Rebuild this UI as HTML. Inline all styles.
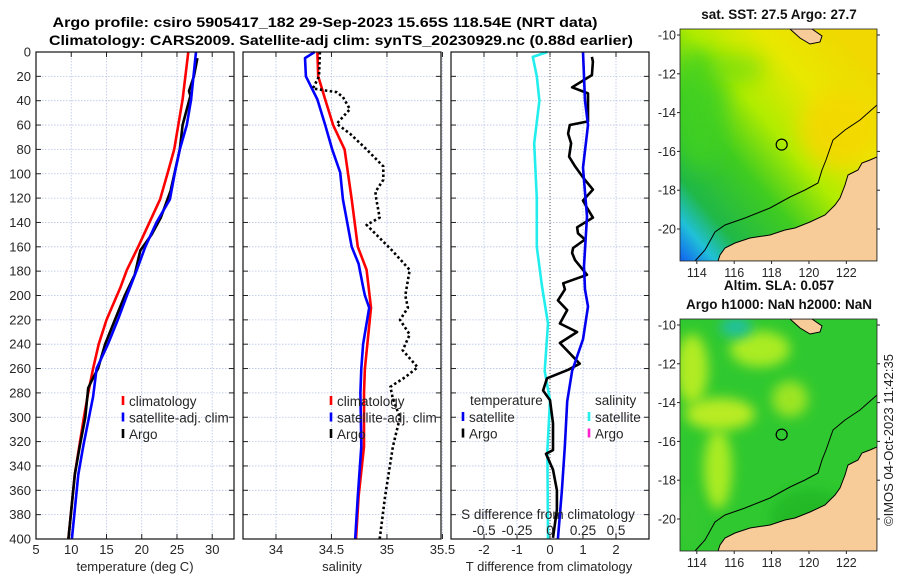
<!DOCTYPE html>
<html><head><meta charset="utf-8">
<style>
html,body{margin:0;padding:0;background:#fff;}
svg{display:block;font-family:"Liberation Sans","DejaVu Sans",sans-serif;}
</style></head>
<body>
<svg id="fig" width="900" height="580" viewBox="0 0 900 580" xmlns="http://www.w3.org/2000/svg">
<defs>
  <filter id="blur8" x="-50%" y="-50%" width="200%" height="200%"><feGaussianBlur stdDeviation="10"/></filter>
  <filter id="blur5" x="-50%" y="-50%" width="200%" height="200%"><feGaussianBlur stdDeviation="6"/></filter>
  <linearGradient id="sstgrad" x1="0" y1="1" x2="0.9" y2="0.1">
    <stop offset="0" stop-color="#1060f0"/>
    <stop offset="0.1" stop-color="#20c0d8"/>
    <stop offset="0.2" stop-color="#20b848"/>
    <stop offset="0.4" stop-color="#40cc20"/>
    <stop offset="0.58" stop-color="#b0ec00"/>
    <stop offset="0.78" stop-color="#e8e800"/>
    <stop offset="1" stop-color="#f0d800"/>
  </linearGradient>
  <clipPath id="clipTop"><rect x="680" y="29" width="197" height="232"/></clipPath>
  <clipPath id="clipBot"><rect x="680" y="319" width="197" height="232"/></clipPath>
</defs>
<text x="325" y="27" text-anchor="middle" font-size="14" font-weight="bold" textLength="545" lengthAdjust="spacingAndGlyphs">Argo profile: csiro 5905417_182 29-Sep-2023 15.65S 118.54E (NRT data)</text>
<text x="341" y="45" text-anchor="middle" font-size="14" font-weight="bold" textLength="584" lengthAdjust="spacingAndGlyphs">Climatology: CARS2009. Satellite-adj clim: synTS_20230929.nc (0.88d earlier)</text>
<g id="panels"></g>
<g id="maps"></g>
<text transform="translate(893,440) rotate(-90)" text-anchor="middle" font-size="13" fill="#222">©IMOS 04-Oct-2023 11:42:35</text>
</svg>
<script>
// ---------- data ----------
const depthTicks = [0,20,40,60,80,100,120,140,160,180,200,220,240,260,280,300,320,340,360,380,400];
const tempTicks = [5,10,15,20,25,30];
const salTicks = [34,34.5,35,35.5];
const salTickLabels = ["34","34.5","35","35.5"];
const dtTicks = [-2,-1,0,1,2];
const dsTicks = [-0.5,-0.25,0,0.25,0.5];
const dsTickLabels = ["-0.5","-0.25","0","0.25","0.5"];

const tClimDepth = [0,39,80,99,121,160,179,193,220,240,260,280,300,347,400];
const tClimVal   = [26.6,25.8,24.6,23.7,22.6,19.5,17.9,17.0,15.0,13.9,13.1,12.4,11.8,10.5,9.6];
const tSatDepth  = [0,39,60,80,99,121,140,160,179,200,220,240,260,283,324,347,400];
const tSatVal    = [27.7,27.0,26.4,25.4,24.7,24.0,22.1,20.5,19.3,17.9,16.6,15.2,13.6,13.1,11.7,11.0,10.1];
const tArgoDepth = [5,20,32,36,60,80,114,136,150,163,183,200,220,240,260,270,276,300,324,347,400];
const tArgoVal   = [27.9,27.4,26.7,26.9,25.8,25.4,24.1,22.7,21.4,19.8,19.0,17.6,16.2,14.8,13.8,12.9,12.4,12.0,11.2,10.5,9.6];

const sClimDepth = [0,20,39,60,80,121,160,179,210,260,280,324,365,400];
const sClimVal   = [34.373,34.381,34.444,34.515,34.618,34.682,34.737,34.817,34.856,34.801,34.793,34.793,34.745,34.721];
const sSatDepth  = [0,5,20,39,60,80,99,121,140,160,174,193,200,210,240,260,280,324,365,400];
const sSatVal    = [34.349,34.262,34.270,34.373,34.444,34.507,34.579,34.603,34.642,34.682,34.745,34.785,34.801,34.840,34.785,34.769,34.761,34.769,34.737,34.714];
const sArgoDepth = [0,20,30,33,37,47,59,67,80,94,105,115,121,136,142,163,179,200,210,220,232,245,259,267,275,285,300,324,365,400];
const sArgoVal   = [34.396,34.388,34.333,34.547,34.603,34.666,34.547,34.666,34.817,34.967,34.967,34.896,34.904,34.935,34.817,35.046,35.205,35.165,35.189,35.118,35.205,35.142,35.276,35.165,35.031,35.054,35.118,35.054,34.983,34.935];

const dtSatDepth = [0,40,60,95,135,176,195,209,236,262,287,323,360,400];
const dtSatVal   = [1.0,1.06,1.15,1.0,1.12,1.03,1.06,1.15,1.0,0.67,0.52,0.45,0.36,0.24];
const dtArgoDepth = [4,8,19,29,34,57,60,67,75,86,94,103,113,122,128,136,144,149,154,161,165,171,183,190,195,204,212,223,230,239,256,261,268,278,286,305,327,330,343,360,376,399];
const dtArgoVal   = [1.27,1.3,1.27,0.67,1.15,1.15,0.6,0.55,0.64,0.58,0.76,1.0,1.3,1.0,1.12,1.3,0.82,0.85,1.06,0.7,0.67,0.76,1.12,0.4,0.45,0.24,0.52,0.3,0.82,0.3,0.9,0.55,-0.09,-0.21,0.0,0.09,0.09,-0.12,0.09,0.21,0.21,0.09];
const dsSatDepth = [0,4,20,40,75,120,160,193,223,262,286,327,400];
const dsSatVal   = [-0.02,-0.13,-0.10,-0.08,-0.12,-0.10,-0.10,-0.06,-0.015,-0.04,0,-0.02,-0.015];

// ---------- helpers ----------
const NS = "http://www.w3.org/2000/svg";
function mk(tag, attrs, parent){
  const e = document.createElementNS(NS, tag);
  for (const k in attrs) e.setAttribute(k, attrs[k]);
  if (parent) parent.appendChild(e);
  return e;
}
const TOP = 52, BOT = 539;
const yD = d => TOP + d/400*(BOT-TOP);
const panelsG = document.getElementById('panels');

function makeAxis(x0, x1, vmin, vmax){ return v => x0 + (v - vmin)/(vmax - vmin)*(x1 - x0); }
const P1 = {x0:36, x1:234}, P2 = {x0:243, x1:441}, P3 = {x0:451, x1:649};
const xT  = makeAxis(P1.x0, P1.x1, 5, 33.09);
const xS  = makeAxis(P2.x0, P2.x1, 33.703, 35.487);
const xDT = makeAxis(P3.x0, P3.x1, -3, 3);
const xDS = makeAxis(P3.x0, P3.x1, -0.75, 0.75);

function grid(g, P, xs, xfun){
  xs.forEach(v=>{
    const x = xfun(v);
    const l = mk('line',{x1:x,x2:x,y1:TOP,y2:BOT,stroke:'#b8c4e8','stroke-width':0.8,'stroke-dasharray':'1.5,1.5'},g);
    
    
    const t1 = mk('line',{x1:x,x2:x,y1:BOT,y2:BOT-5,stroke:'#222','stroke-width':1},g);
    
    
    const t2 = mk('line',{x1:x,x2:x,y1:TOP,y2:TOP+5,stroke:'#222','stroke-width':1},g);
    
    
  });
  depthTicks.forEach(d=>{
    const y = yD(d);
    const l = mk('line',{x1:P.x0,x2:P.x1,y1:y,y2:y,stroke:'#b8c4e8','stroke-width':0.8,'stroke-dasharray':'1.5,1.5'},g);
    
    
    const t1 = mk('line',{x1:P.x0,x2:P.x0+5,y1:y,y2:y,stroke:'#222','stroke-width':1},g);
    
    
    const t2 = mk('line',{x1:P.x1,x2:P.x1-5,y1:y,y2:y,stroke:'#222','stroke-width':1},g);
    
    
  });
}
function frame(g, P, name){
  const r = mk('rect',{x:P.x0,y:TOP,width:P.x1-P.x0,height:BOT-TOP,fill:'none',stroke:'#111','stroke-width':1.2},g);
  
  
}
function line(g, xs, ds, xfun, color, width, dash, name){
  const pts = xs.map((v,i)=> xfun(v).toFixed(1)+','+yD(ds[i]).toFixed(1)).join(' ');
  const attrs = {points:pts, fill:'none', stroke:color, 'stroke-width':width, 'stroke-linejoin':'round'};
  if (dash) { attrs['stroke-dasharray']=dash; }
  const p = mk('polyline', attrs, g);
  
  
}
function text(g, x, y, s, opts){
  const t = mk('text', Object.assign({x:x, y:y, 'font-size':13, fill:'#262626'}, opts||{}), g);
  t.textContent = s;
  return t;
}

// ---------- panel 1: temperature ----------
const g1 = mk('g',{},panelsG);


grid(g1, P1, tempTicks, xT);
line(g1, tClimVal, tClimDepth, xT, '#ff0000', 2.6, null, 'temp-climatology-line');
line(g1, tArgoVal, tArgoDepth, xT, '#000000', 2.6, null, 'temp-argo-line');
line(g1, tSatVal, tSatDepth, xT, '#0000ff', 2.6, null, 'temp-satellite-line');
frame(g1, P1, 'temperature-axes-frame');
depthTicks.forEach(d=>{
  const t = text(g1, 31, yD(d)+4.5, String(d), {'text-anchor':'end'});
  
  
});
tempTicks.forEach(v=>{
  const t = text(g1, xT(v), 554, String(v), {'text-anchor':'middle'});
  
  
});
{ const t = text(g1, 135, 571, 'temperature (deg C)', {'text-anchor':'middle'});
    }

function legend(g, x, y, items, name){
  const lg = mk('g',{},g);
  
  
  items.forEach((it,i)=>{
    const yy = y + i*16.5;
    if (it.color){
      const m = mk('line',{x1:x,x2:x,y1:yy-10,y2:yy-1,stroke:it.color,'stroke-width':2.6},lg);
      
      
    }
    const t = text(lg, x+6, yy, it.label, {'font-size':13.5});
    
    
  });
}
legend(g1, 123, 406, [{color:'#ff0000',label:'climatology'},{color:'#0000ff',label:'satellite-adj. clim'},{color:'#000',label:'Argo'}], 'temperature-legend');

// ---------- panel 2: salinity ----------
const g2 = mk('g',{},panelsG);


grid(g2, P2, salTicks, xS);
line(g2, sClimVal, sClimDepth, xS, '#ff0000', 2.6, null, 'sal-climatology-line');
line(g2, sSatVal, sSatDepth, xS, '#0000ff', 2.6, null, 'sal-satellite-line');
line(g2, sArgoVal, sArgoDepth, xS, '#000000', 2.6, '2.5,2.5', 'sal-argo-line');
frame(g2, P2, 'salinity-axes-frame');
salTicks.forEach((v,i)=>{
  const t = text(g2, xS(v), 554, salTickLabels[i], {'text-anchor':'middle'});
  
  
});
{ const t = text(g2, 342, 571, 'salinity', {'text-anchor':'middle'});
    }
legend(g2, 331, 406, [{color:'#ff0000',label:'climatology'},{color:'#0000ff',label:'satellite-adj. clim'},{color:'#000',label:'Argo'}], 'salinity-legend');

// ---------- panel 3: differences ----------
const g3 = mk('g',{},panelsG);


grid(g3, P3, dtTicks, xDT);
{ const z = mk('line',{x1:xDT(0),x2:xDT(0),y1:TOP,y2:BOT,stroke:'#555','stroke-width':1,'stroke-dasharray':'1,2'},g3);
    }
line(g3, dsSatVal, dsSatDepth, xDS, '#22eeee', 2.6, null, 'sal-diff-satellite-line');
line(g3, dtArgoVal, dtArgoDepth, xDT, '#000000', 2.6, null, 'temp-diff-argo-line');
line(g3, dtSatVal, dtSatDepth, xDT, '#0000ee', 2.6, null, 'temp-diff-satellite-line');
frame(g3, P3, 'difference-axes-frame');
dtTicks.forEach(v=>{
  const t = text(g3, xDT(v), 554, String(v), {'text-anchor':'middle'});
  
  
});
{ const t = text(g3, 549, 571, 'T difference from climatology', {'text-anchor':'middle'});
    }
{ const t = text(g3, 548, 519, 'S difference from climatology', {'text-anchor':'middle','font-size':13.5});
    }
dsTicks.forEach((v,i)=>{
  const t = text(g3, xDS(v), 535, dsTickLabels[i], {'text-anchor':'middle','font-size':13.5});
  
  
});
{ const t = text(g3, 470, 405, 'temperature', {'font-size':13.5});
   
  const t2 = text(g3, 595, 405, 'salinity', {'font-size':13.5});
    }
legend(g3, 463, 422, [{color:'#0000ee',label:'satellite'},{color:'#000',label:'Argo'}], 'temp-diff-legend');
legend(g3, 589, 422, [{color:'#22eeee',label:'satellite'},{color:'#ff22cc',label:'Argo'}], 'sal-diff-legend');

// ---------- maps ----------
const mapsG = document.getElementById('maps');
const lonTicks = [114,116,118,120,122];
const latTicks = [-10,-12,-14,-16,-18,-20];
const MX0 = 680, MX1 = 877, MW = 197, MH = 232;
const lonX = lon => MX0 + (lon - 113.1)/(123.64-113.1)*MW;
function latY(top){ return lat => top + 6 + (-10 - lat)*19.4; }

const landMain = [[877,157],[870,160],[862,163],[858,170],[848,175],[845,185],[840,198],[835,205],[825,215],[810,222],[795,228],[785,230],[770,235],[750,238],[735,243],[725,248],[720,255],[718,261],[877,261]];
const landTop = [[790,29],[812,29],[822,36],[820,42],[810,44],[800,38]];
const isobath = [[695,261],[705,250],[715,232],[725,225],[745,218],[770,208],[790,197],[805,190],[818,183],[822,170],[826,160],[833,140],[845,130],[860,120],[877,105]];
function ptsStr(arr, dy){ return arr.map(p=>p[0]+','+(p[1]+dy)).join(' '); }

function drawMap(top, kind, title1, title2){
  const dy = top - 29;
  const g = mk('g',{},mapsG);
  
  
  const inner = mk('g',{'clip-path': kind==='sst' ? 'url(#clipTop)' : 'url(#clipBot)'}, g);
  if (kind === 'sst'){
    const bg = mk('rect',{x:MX0,y:top,width:MW,height:MH,fill:'url(#sstgrad)'},inner);
     
    const b1 = mk('ellipse',{cx:700,cy:top+80,rx:26,ry:60,fill:'#40d020',opacity:0.85,filter:'url(#blur8)'},inner);
     
    const b3 = mk('ellipse',{cx:735,cy:top+40,rx:30,ry:14,fill:'#70dc10',opacity:0.7,filter:'url(#blur8)'},inner);
     
    const b2 = mk('ellipse',{cx:840,cy:top+100,rx:40,ry:40,fill:'#f4d800',opacity:0.9,filter:'url(#blur8)'},inner);
     
  } else {
    const bg = mk('rect',{x:MX0,y:top,width:MW,height:MH,fill:'#30c830'},inner);
     
    const blobs = [[692,top+50,16,35],[760,top+30,30,18],[720,top+95,35,16],[790,top+80,18,18],[718,top+150,14,40],[810,top+200,40,30],[690,top+200,10,30]];
    const cols = ['#c0f020','#b8f020','#c8f020','#a8e820','#b8f020','#20b828','#38c830'];
    blobs.forEach((b,i)=>{
      const e = mk('ellipse',{cx:b[0],cy:b[1],rx:b[2],ry:b[3],fill:cols[i],opacity:0.9,filter:'url(#blur5)'},inner);
       
    });
    const e2 = mk('ellipse',{cx:736,cy:top+8,rx:16,ry:10,fill:'#20c0a0',filter:'url(#blur5)'},inner);
     
  }
  const l1 = mk('polygon',{points:ptsStr(landMain,dy),fill:'#f8cc98',stroke:'#000','stroke-width':1},inner);
   
  const l2 = mk('polygon',{points:ptsStr(landTop,dy),fill:'#f8cc98',stroke:'#000','stroke-width':1},inner);
   
  const iso = mk('polyline',{points:ptsStr(isobath,dy),fill:'none',stroke:'#000','stroke-width':1},inner);
   
  const c = mk('circle',{cx:lonX(118.54),cy:latY(top)(-15.65),r:5.5,fill:'none',stroke:'#000','stroke-width':1.2},g);
   
  const fr = mk('rect',{x:MX0,y:top,width:MW,height:MH,fill:'none',stroke:'#222','stroke-width':0.8},g);
   
  lonTicks.forEach(v=>{
    const x = lonX(v);
    const tk = mk('line',{x1:x,x2:x,y1:top+MH,y2:top+MH+3,stroke:'#222'},g);
     
    const t = text(g, x, top+MH+16, String(v), {'text-anchor':'middle','font-size':12.5});
     
  });
  latTicks.forEach(v=>{
    const y = latY(top)(v);
    const tk = mk('line',{x1:MX0-3,x2:MX0,y1:y,y2:y,stroke:'#222'},g);
     
    const tk2 = mk('line',{x1:MX1,x2:MX1+3,y1:y,y2:y,stroke:'#222'},g);
     
    const t = text(g, MX0-4, y+4.5, String(v), {'text-anchor':'end','font-size':12.5});
     
  });
  if (title1){
    const t = text(g, 779, top - (title2?29:10), title1, {'text-anchor':'middle','font-size':13.5,'font-weight':'bold',fill:'#111'});
     
  }
  if (title2){
    const t = text(g, 779, top - 10, title2, {'text-anchor':'middle','font-size':13.5,'font-weight':'bold',fill:'#111'});
     
  }
}
drawMap(29, 'sst', 'sat. SST: 27.5 Argo: 27.7', null);
drawMap(319, 'sla', 'Altim. SLA: 0.057', 'Argo h1000: NaN h2000: NaN');
</script>
</body></html>
